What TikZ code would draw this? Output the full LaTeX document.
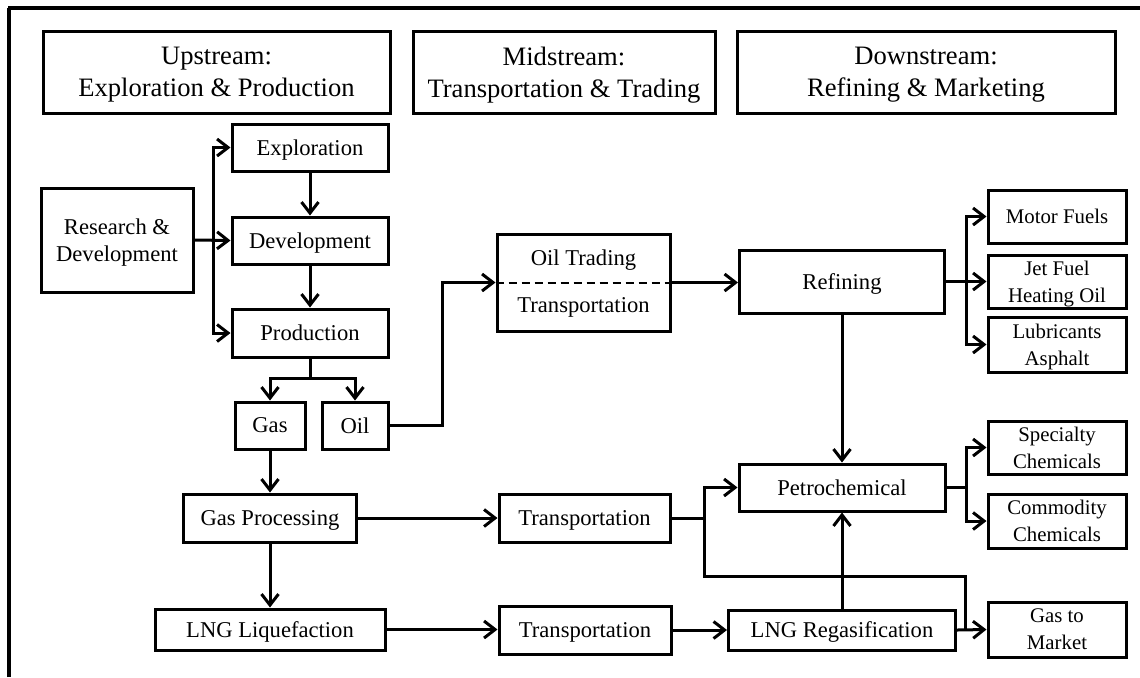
\documentclass[tikz,border=0pt]{standalone}
\usepackage{fontspec}
\setmainfont{Liberation Serif}
\usetikzlibrary{arrows.meta}
\newcommand{\bx}[7]{\node[#1, minimum width=#5*0.5pt, minimum height=#6*0.5pt] (#2) at (#3,#4) {#7};}
\tikzset{
  boxs/.style={draw, line width=1.5pt, inner sep=0pt, text depth=0pt, align=center, font=\fontsize{11.3}{13.5}\selectfont},
  hdr/.style={boxs, font=\fontsize{13.3}{16}\selectfont},
  sm/.style={boxs, font=\fontsize{10.4}{13.5}\selectfont},
  txt/.style={inner sep=0pt, text depth=0pt, font=\fontsize{11.3}{13.5}\selectfont},
  ln/.style={line width=1.5pt},
  arr/.style={line width=1.5pt, -{Straight Barb[length=5.5pt,width=8.5pt,line width=1.5pt]}},
  dashline/.style={line width=1pt, dash pattern=on 4pt off 2.5pt},
}
\begin{document}
\begin{tikzpicture}[x=0.5pt,y=-0.5pt]
\useasboundingbox (0,0) rectangle (1140,677);
% frame
\draw[line width=1.6pt] (9,677) -- (9,8);
\draw[line width=2pt] (8,8) -- (1140,8);
% headers
\bx{hdr}{up}{216.5}{72}{347}{82}{Upstream:\\Exploration \& Production}
\bx{hdr}{mid}{564}{72}{302}{82}{Midstream:\\Transportation \& Trading}
\bx{hdr}{down}{926}{72}{378}{82}{Downstream:\\Refining \& Marketing}
% upstream
\bx{boxs}{expl}{310}{147.5}{156}{47}{Exploration}
\bx{boxs}{rd}{117}{240}{152}{104}{Research \&\\Development}
\bx{boxs}{dev}{310}{240.5}{156}{47}{Development}
\bx{boxs}{prod}{310}{333}{156}{48}{Production}
\bx{boxs}{gas}{270}{425.5}{70}{47}{Gas}
\bx{boxs}{oil}{355}{425.5}{66}{47}{Oil}
\bx{boxs}{gasproc}{270}{518}{173}{48}{Gas Processing}
\bx{boxs}{lngliq}{270}{629.5}{230}{41}{LNG Liquefaction}
% midstream
\bx{boxs}{oiltr}{583.5}{282.5}{173}{97}{}
\node[txt] (oiltrA) at (583.5,258) {Oil Trading};
\node[txt] (oiltrB) at (583.5,305) {Transportation};
\bx{boxs}{trans1}{584.5}{518}{171}{48}{Transportation}
\bx{boxs}{trans2}{585}{630}{172}{48}{Transportation}
% downstream
\bx{boxs}{ref}{842}{281.5}{205}{63}{Refining}
\bx{boxs}{petro}{842}{487.5}{206}{47}{Petrochemical}
\bx{boxs}{regas}{842}{630}{227}{40}{LNG Regasification}
\bx{sm}{motor}{1057}{216.5}{138}{53}{Motor Fuels}
\bx{sm}{jet}{1057}{281.5}{138}{53}{Jet Fuel\\Heating Oil}
\bx{sm}{lub}{1057}{344.5}{138}{55}{Lubricants\\Asphalt}
\bx{sm}{spec}{1057}{447.5}{138}{53}{Specialty\\Chemicals}
\bx{sm}{comm}{1057}{521}{138}{54}{Commodity\\Chemicals}
\bx{sm}{gtm}{1057}{629.5}{138}{55}{Gas to\\Market}
% coordinates
\coordinate (br) at (213,240);
\coordinate (ps) at (310,378);
\coordinate (ol) at (442,282.5);
\coordinate (rb) at (966,281.5);
\coordinate (pb) at (966,487.5);
\coordinate (tj) at (704,518);
\coordinate (tl) at (704,576);
\coordinate (tr) at (965,576);
\coordinate (tm) at (965,629.5);
% connectors upstream
\draw[arr] (rd.east) -- (dev.west);
\draw[arr] (br) |- (expl.west);
\draw[arr] (br) |- (prod.west);
\draw[arr] (expl.south) -- (dev.north);
\draw[arr] (dev.south) -- (prod.north);
\draw[ln] (prod.south) -- (ps);
\draw[arr] (ps) -| (gas.north);
\draw[arr] (ps) -| (oil.north);
\draw[arr] (oil.east) -| (ol) -- (oiltr.west);
\draw[dashline] (oiltr.west) -- (oiltr.east);
\draw[arr] (oiltr.east) -- (oiltr.east -| ref.west);
\draw[arr] (gas.south) -- (gasproc.north);
\draw[arr] (gasproc.south) -- (lngliq.north);
\draw[arr] (gasproc.east) -- (trans1.west);
\draw[arr] (lngliq.east) -- (lngliq.east -| trans2.west);
% downstream
\draw[ln] (ref.east) -- (rb);
\draw[arr] (rb) |- (motor.west);
\draw[arr] (rb) -- (jet.west);
\draw[arr] (rb) |- (lub.west);
\draw[arr] (ref.south) -- (petro.north);
\draw[ln] (petro.east) -- (pb);
\draw[arr] (pb) |- (spec.west);
\draw[arr] (pb) |- (comm.west);
\draw[ln] (trans1.east) -- (tj);
\draw[arr] (tj) |- (petro.west);
\draw[ln] (tj) -- (tl) -- (tr) -- (tm);
\draw[arr] (trans2.east) -- (regas.west);
\draw[arr] (regas.east) -- (gtm.west);
\draw[arr] (regas.north) -- (petro.south);
\end{tikzpicture}
\end{document}
